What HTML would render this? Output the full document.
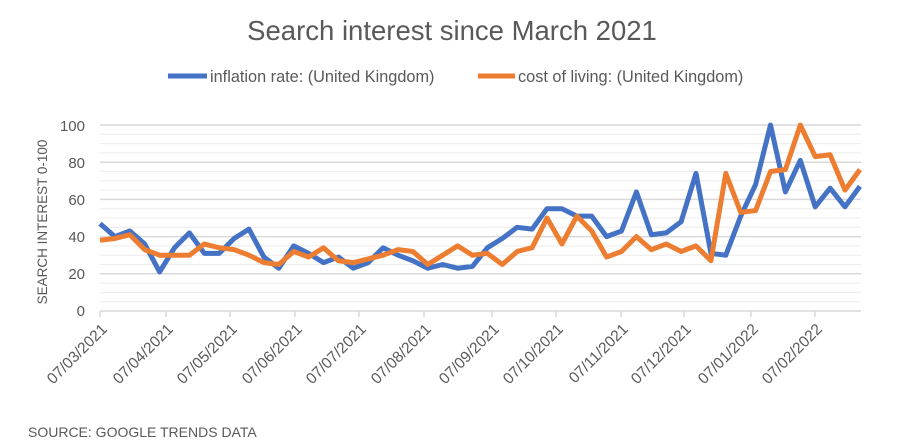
<!DOCTYPE html>
<html><head><meta charset="utf-8"><style>
body{margin:0;background:#fff;}
svg{display:block;font-family:"Liberation Sans",sans-serif;}
</style></head><body>
<svg id="s" width="900" height="446" viewBox="0 0 900 446">
<rect width="900" height="446" fill="#fff"/>
<text x="452" y="40" text-anchor="middle" font-size="27.5" fill="#595959">Search interest since March 2021</text>
<line x1="168" y1="76" x2="207" y2="76" stroke="#4472C4" stroke-width="5"/>
<text x="210" y="82" font-size="16.3" fill="#595959">inflation rate: (United Kingdom)</text>
<line x1="478" y1="76" x2="515" y2="76" stroke="#ED7D31" stroke-width="5"/>
<text x="518" y="82" font-size="16.3" fill="#595959">cost of living: (United Kingdom)</text>
<g id="grid"></g>
<g font-size="15" fill="#595959" text-anchor="end">
<text x="85" y="316">0</text><text x="85" y="279">20</text><text x="85" y="242">40</text>
<text x="85" y="205">60</text><text x="85" y="168">80</text><text x="85" y="131">100</text>
</g>
<text transform="translate(47,222) rotate(-90)" text-anchor="middle" font-size="13.5" fill="#595959">SEARCH INTEREST 0-100</text>
<g font-size="15.5" fill="#595959" text-anchor="end">
<text transform="translate(108,330) rotate(-45)">07/03/2021</text>
<text transform="translate(174,330) rotate(-45)">07/04/2021</text>
<text transform="translate(238,330) rotate(-45)">07/05/2021</text>
<text transform="translate(303,330) rotate(-45)">07/06/2021</text>
<text transform="translate(367,330) rotate(-45)">07/07/2021</text>
<text transform="translate(432,330) rotate(-45)">07/08/2021</text>
<text transform="translate(500,330) rotate(-45)">07/09/2021</text>
<text transform="translate(564,330) rotate(-45)">07/10/2021</text>
<text transform="translate(629,330) rotate(-45)">07/11/2021</text>
<text transform="translate(692,330) rotate(-45)">07/12/2021</text>
<text transform="translate(759,330) rotate(-45)">07/01/2022</text>
<text transform="translate(823,330) rotate(-45)">07/02/2022</text>
</g>
<text x="28" y="437" font-size="14" fill="#595959">SOURCE: GOOGLE TRENDS DATA</text>
<polyline id="b" fill="none" stroke="#4472C4" stroke-width="5" stroke-linejoin="round"/>
<polyline id="o" fill="none" stroke="#ED7D31" stroke-width="5" stroke-linejoin="round"/>
</svg>
<script>
var B=[47,40,43,36,21,34,42,31,31,39,44,29,23,35,31,26,29,23,26,34,30,27,23,25,23,24,34,39,45,44,55,55,51,51,40,43,64,41,42,48,74,31,30,51,68,100,64,81,56,66,56,67];
var O=[38,39,41,33,30,30,30,36,34,33,30,26,25,32,29,34,27,26,28,30,33,32,25,30,35,30,31,25,32,34,50,36,51,43,29,32,40,33,36,32,35,27,74,53,54,75,76,100,83,84,65,76];
function pts(a){return a.map(function(v,i){return (100+i*14.9)+","+(311-1.86*v)}).join(" ");}
document.getElementById("b").setAttribute("points",pts(B));
document.getElementById("o").setAttribute("points",pts(O));
var g=document.getElementById("grid"),h="";
for(var v=5;v<=100;v+=5){var y=311-1.86*v;h+='<line x1="100" x2="861" y1="'+y+'" y2="'+y+'" stroke="'+(v%20==0?'#d9d9d9':'#ececec')+'" stroke-width="'+(v%20==0?1.5:1)+'"/>';}
h+='<line x1="100" x2="861" y1="311" y2="311" stroke="#d9d9d9" stroke-width="1.5"/>';
[100,166,230,295,359,424,492,556,621,684,751,815].forEach(function(x){h+='<line x1="'+x+'" x2="'+x+'" y1="311" y2="317" stroke="#d9d9d9" stroke-width="1.5"/>';});
g.innerHTML=h;
</script>
</body></html>
